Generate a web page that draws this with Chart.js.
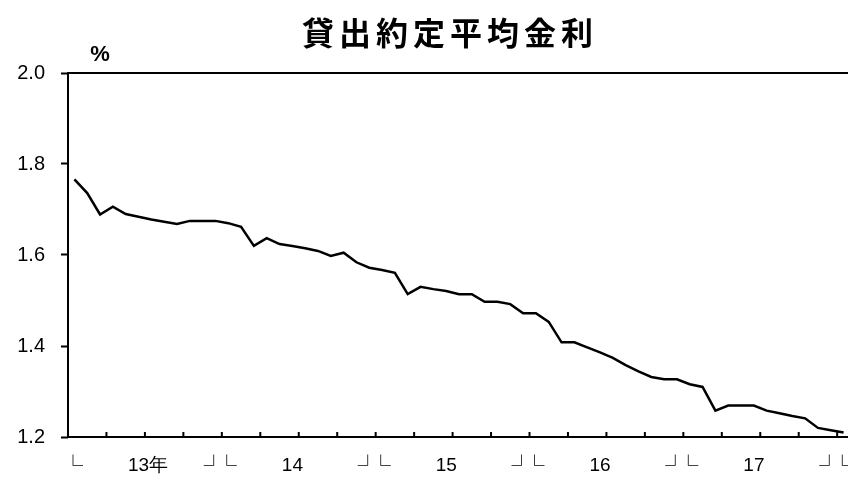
<!DOCTYPE html>
<html>
<head>
    <meta charset="UTF-8">
    <title>貸出約定平均金利</title>
    <script src="https://cdn.jsdelivr.net/npm/chart.js"></script>
    <style>
        html, body { margin: 0; padding: 0; overflow: hidden; background: #fff; }
        #wrap { width: 860px; height: 483px; }
    </style>
</head>
<body>
    <div id="wrap"><canvas id="myChart"></canvas></div>
    <script>
        const months = [
            '13/1','13/2','13/3','13/4','13/5','13/6','13/7','13/8','13/9','13/10','13/11','13/12',
            '14/1','14/2','14/3','14/4','14/5','14/6','14/7','14/8','14/9','14/10','14/11','14/12',
            '15/1','15/2','15/3','15/4','15/5','15/6','15/7','15/8','15/9','15/10','15/11','15/12',
            '16/1','16/2','16/3','16/4','16/5','16/6','16/7','16/8','16/9','16/10','16/11','16/12',
            '17/1','17/2','17/3','17/4','17/5','17/6','17/7','17/8','17/9','17/10','17/11','17/12',
            '18/1'
        ];
        const rates = [
            1.766, 1.736, 1.689, 1.706, 1.690, 1.684, 1.678, 1.673, 1.668, 1.675, 1.675, 1.675,
            1.670, 1.662, 1.620, 1.637, 1.624, 1.620, 1.615, 1.609, 1.598, 1.605, 1.584, 1.572,
            1.567, 1.561, 1.514, 1.530, 1.525, 1.521, 1.514, 1.514, 1.497, 1.497, 1.492, 1.472,
            1.472, 1.453, 1.408, 1.408, 1.397, 1.386, 1.374, 1.358, 1.344, 1.332, 1.327, 1.327,
            1.316, 1.310, 1.258, 1.269, 1.269, 1.269, 1.258, 1.252, 1.246, 1.241, 1.220, 1.215,
            1.210
        ];
        const yearLabels = ['13年', '14', '15', '16', '17'];
        const yTicks = [1.2, 1.4, 1.6, 1.8, 2.0];
        const titleText = '貸出約定平均金利';
        const unitText = '%';

        // frame, quarter ticks, title and year brackets
        const extras = {
            id: 'extras',
            afterDraw(chart) {
                const c = chart.ctx;
                const a = chart.chartArea;
                const x = chart.scales.x;
                const step = x.getPixelForValue(1) - x.getPixelForValue(0);
                const edge = i => x.getPixelForValue(i) - step / 2;
                c.save();
                c.strokeStyle = '#000';
                c.lineWidth = 2;
                c.strokeRect(a.left, a.top, a.right - a.left, a.bottom - a.top);
                c.beginPath();
                for (let i = 3; i < months.length; i += 3) {
                    c.moveTo(edge(i), a.bottom);
                    c.lineTo(edge(i), a.bottom - 5);
                }
                c.stroke();

                c.fillStyle = '#000';
                c.textBaseline = 'middle';
                c.textAlign = 'center';
                c.font = 'bold 32px "Noto Sans CJK JP"';
                c.letterSpacing = '5px';
                c.fillText(titleText, 450, 33);
                c.letterSpacing = '0px';
                c.font = 'bold 22px "Liberation Sans"';
                c.fillText(unitText, 100, 55);

                c.font = '19px "Liberation Sans"';
                c.textAlign = 'left';
                yearLabels.forEach((lab, j) => {
                    c.fillText(lab, edge(j * 12) + 60, 466);
                });
                c.font = '20px "Noto Sans CJK JP"';
                c.textAlign = 'center';
                for (let j = 0; j <= yearLabels.length; j++) {
                    const b = edge(j * 12);
                    if (j > 0) c.fillText('┘', b - 8, 465);
                    c.fillText('└', b + 5, 465);
                }
                c.restore();
            }
        };

        const ctx = document.getElementById('myChart').getContext('2d');
        const chart = new Chart(ctx, {
            type: 'line',
            data: {
                labels: months,
                datasets: [{
                    data: rates,
                    borderColor: '#000',
                    borderWidth: 2.5,
                    pointRadius: 0,
                    tension: 0,
                    fill: false
                }]
            },
            options: {
                animation: false,
                responsive: true,
                maintainAspectRatio: false,
                layout: { padding: { top: 73, right: 10, bottom: 46, left: 0 } },
                plugins: {
                    legend: { display: false },
                    tooltip: { enabled: false }
                },
                scales: {
                    x: {
                        offset: true,
                        grid: { display: false },
                        ticks: { display: false },
                        border: { display: false },
                        afterFit: s => { s.height = 0; }
                    },
                    y: {
                        min: 1.2,
                        max: 2.0,
                        afterBuildTicks: s => { s.ticks = yTicks.map(v => ({ value: v })); },
                        afterFit: s => { s.width = 68; },
                        grid: { drawOnChartArea: false, tickLength: 7, color: '#000', tickWidth: 2 },
                        border: { display: false },
                        ticks: {
                            color: '#000',
                            padding: 16,
                            font: { family: 'Liberation Sans', size: 20 },
                            callback: v => v.toFixed(1)
                        }
                    }
                }
            },
            plugins: [extras]
        });
    </script>
</body>
</html>
